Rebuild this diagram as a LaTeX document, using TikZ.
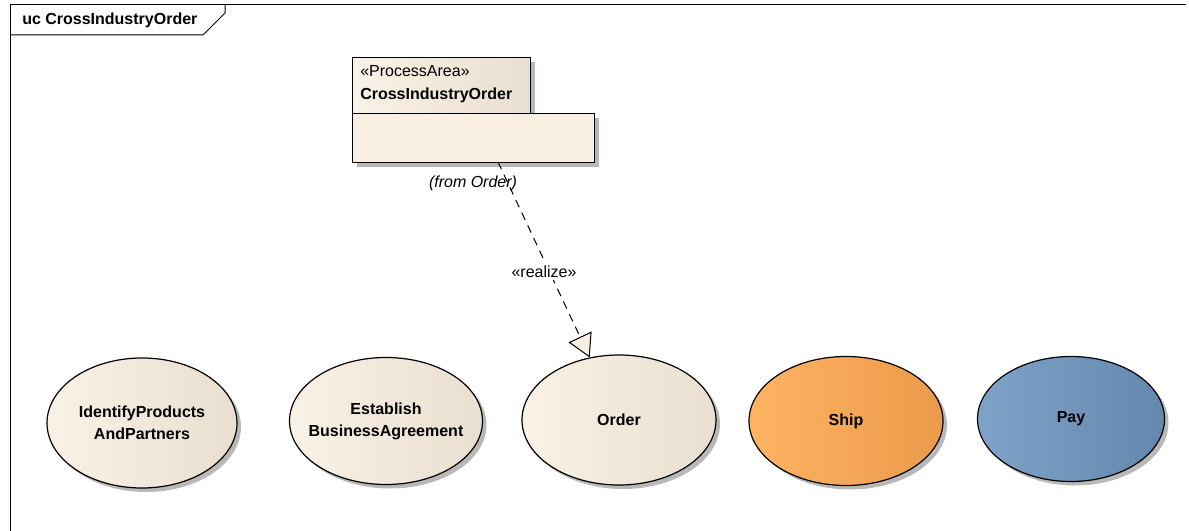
\documentclass[tikz,border=0pt]{standalone}
\usepackage{fontspec}
\setmainfont{Liberation Sans}
\usetikzlibrary{shapes.geometric,shadows,arrows.meta}

\definecolor{beigeL}{HTML}{FAF2E6}
\definecolor{beigeR}{HTML}{E8DFD0}
\definecolor{beigeBox}{HTML}{FAF0E2}
\definecolor{shipL}{HTML}{FFB463}
\definecolor{shipR}{HTML}{EA9B4A}
\definecolor{payL}{HTML}{7FA3C8}
\definecolor{payR}{HTML}{6387AD}

\tikzset{
    ucshadow/.style={drop shadow={shadow xshift=3pt, shadow yshift=-3pt, fill=black!28, opacity=1}},
    usecase/.style={ellipse, draw, line width=0.9pt, inner sep=0pt, align=center,
        font=\fontsize{12}{16.5}\selectfont\bfseries, ucshadow,
        left color=beigeL, right color=beigeR},
    pabox/.style={rectangle, draw, line width=0.9pt, inner sep=0pt, anchor=north west, ucshadow},
}

\begin{document}
\begin{tikzpicture}[x=0.75pt, y=-0.75pt, font=\fontsize{12}{16.5}\selectfont]
        \useasboundingbox (0,0) rectangle (1189,531);

        % frame
        \draw[line width=0.75pt] (1186,5) -- (10,5) -- (10,531);
        \draw[line width=0.75pt] (10,35) -- (203,35) -- (225,13) -- (225,5);
        \node[anchor=west, inner sep=0pt] at (22,20)(frametitle){\bfseries uc CrossIndustryOrder};

        % process area
        \node[pabox, minimum width=178*0.75pt, minimum height=56*0.75pt,
              left color=beigeL, right color=beigeR] at (352,57)(paname){};
        \node[pabox, minimum width=242*0.75pt, minimum height=49*0.75pt,
              fill=beigeBox] at (352,113)(pabody){};
        \node[anchor=west, inner sep=0pt, align=left, font=\fontsize{12}{17}\selectfont] at (360,84)(patext)
            {«ProcessArea»\\\bfseries CrossIndustryOrder};
        \node[font=\fontsize{12}{14}\selectfont\itshape] at (473,183)(pafrom){(from Order)};
        \coordinate (pabody-out) at (498,162);

        % use cases
        \node[usecase, minimum width=190*0.75pt, minimum height=130*0.75pt] at (142,423)(identify){IdentifyProducts\\AndPartners};
        \node[usecase, inner xsep=-8pt, minimum width=193*0.75pt, minimum height=127*0.75pt] at (386,421)(establish){Establish\\BusinessAgreement};
        \node[usecase, minimum width=194*0.75pt, minimum height=130*0.75pt] at (619,420)(order){Order};
        \node[usecase, minimum width=194*0.75pt, minimum height=129*0.75pt,
              left color=shipL, right color=shipR] at (846,421)(ship){Ship};
        \node[usecase, minimum width=187*0.75pt, minimum height=125*0.75pt,
              left color=payL, right color=payR] at (1071,419)(pay){Pay};

        \path[-{Triangle[fill=beigeBox, length=17pt, width=19pt]}, line width=0.75pt, dash pattern=on 6pt off 4.5pt]
            (pabody-out)edge node[pos=0.56, xshift=-4pt, fill=white, inner sep=2pt]{«realize»}(order)
            ;
    \end{tikzpicture}
\end{document}
